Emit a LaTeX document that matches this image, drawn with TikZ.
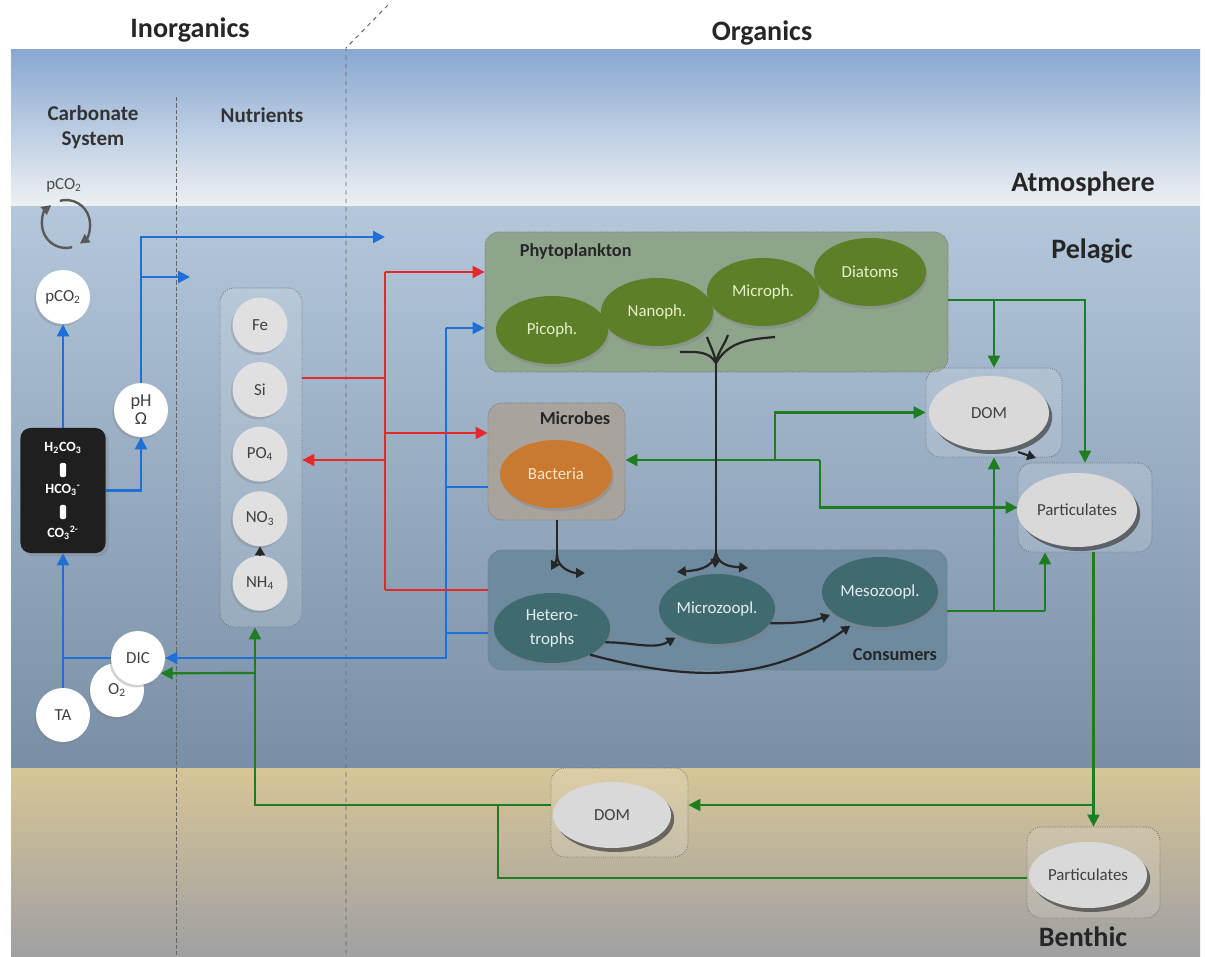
\documentclass[tikz,border=0pt]{standalone}
\usepackage{fontspec}
\setmainfont{Carlito}
\usetikzlibrary{arrows.meta,positioning,shapes.geometric,shadows}

\begin{document}
\begin{tikzpicture}[
            x=0.25mm,y=0.25mm,
            font=\fontsize{12}{14}\selectfont,
            title/.style={font=\fontsize{20}{22}\selectfont\bfseries,text=black!85},
            head/.style={font=\fontsize{15}{18}\selectfont\bfseries,text=black!80,align=center},
            grp/.style={font=\fontsize{13}{15}\selectfont\bfseries,text=black!85},
            grpbox/.style={draw=black!55,densely dotted,rounded corners=3.5mm,line width=.6pt},
            wcirc/.style={circle,fill=white,minimum size=13.5mm,inner sep=0pt,text=black!75,
                drop shadow={shadow xshift=-.4mm,shadow yshift=-.6mm,opacity=.35}},
            ncirc/.style={wcirc,fill=black!12,minimum size=13.75mm},
            phyell/.style={ellipse,fill=phyx,text=phytx,minimum width=28mm,minimum height=17mm,inner sep=0pt,
                drop shadow={shadow xshift=.4mm,shadow yshift=-.8mm,opacity=.4}},
            conell/.style={phyell,fill=conx,text=contx,minimum width=29mm,minimum height=17.5mm},
            bacell/.style={phyell,fill=bacx,text=bactx},
            omell/.style={ellipse,fill=black!15,text=black!75,minimum width=30mm,minimum height=18.5mm,inner sep=0pt,
                drop shadow={shadow xshift=.8mm,shadow yshift=-1mm,fill=black!75,opacity=.7}},
            ctext/.style={text=white,font=\fontsize{10}{12}\selectfont\bfseries,inner sep=1pt},
            sepx/.style={fill=white,rounded corners=.6mm,minimum width=1.6mm,minimum height=3.6mm,inner sep=0pt},
            bline/.style={draw=blx,line width=.55mm},
            barr/.style={bline,-{Triangle[length=3mm,width=3mm]}},
            rline/.style={draw=rdx,line width=.55mm},
            rarr/.style={rline,-{Triangle[length=3mm,width=3mm]}},
            gline/.style={draw=grx,line width=.55mm},
            garr/.style={gline,-{Triangle[length=3mm,width=3mm]}},
            kline/.style={draw=black!85,line width=.55mm},
            karr/.style={kline,-{Triangle[length=2.2mm,width=2.4mm]}}
        ]
            \definecolor{atmtop}{RGB}{136,168,210}
            \definecolor{atmbot}{RGB}{238,241,242}
            \definecolor{peltop}{RGB}{180,199,219}
            \definecolor{pelbot}{RGB}{120,143,166}
            \definecolor{bentop}{RGB}{214,197,150}
            \definecolor{benbot}{RGB}{160,160,162}
            \definecolor{blx}{RGB}{30,112,215}
            \definecolor{rdx}{RGB}{232,40,40}
            \definecolor{grx}{RGB}{30,125,30}
            \definecolor{phybx}{RGB}{142,165,140}
            \definecolor{micbx}{RGB}{168,163,156}
            \definecolor{conbx}{RGB}{110,138,158}
            \definecolor{phyx}{RGB}{92,127,40}
            \definecolor{phytx}{RGB}{232,240,200}
            \definecolor{conx}{RGB}{62,106,112}
            \definecolor{contx}{RGB}{228,238,240}
            \definecolor{bacx}{RGB}{202,122,48}
            \definecolor{bactx}{RGB}{248,228,200}

            \useasboundingbox (0,0) rectangle (1205,-957);
            \shade[top color=atmtop,bottom color=atmbot] (11,-50) rectangle (1200,-207);
            \shade[top color=peltop,bottom color=pelbot] (11,-207) rectangle (1200,-768);
            \shade[top color=bentop,bottom color=benbot] (11,-768) rectangle (1200,-957);
            \draw[black!60,dash pattern=on 3pt off 1.5pt,line width=.5pt] (176,-97) -- (176,-957);
            \draw[black!60,dashed,line width=.7pt] (388,-5) -- (346,-48) -- (346,-957);

            \node[title] (inorg) at (190,-30)  {Inorganics};
            \node[title] (org)   at (762,-33)  {Organics};
            \node[title] (atm)   at (1083,-184) {Atmosphere};
            \node[title] (pel)   at (1092,-251) {Pelagic};
            \node[title] (ben)   at (1083,-937) {Benthic};
            \node[head]  (carbh) at (93,-127)  {Carbonate\\System};
            \node[head]  (nutrh) at (262,-115) {Nutrients};

            \node[text=black!70] (pco2t) at (64,-185) {pCO\textsubscript{2}};
            \coordinate (cyc) at (66,-224);
            \draw[black!65,line width=.6mm,-{Triangle[length=2.4mm,width=2.4mm]}] (cyc) ++(285:24) arc[start angle=285,end angle=128,radius=24];
            \draw[black!65,line width=.6mm,-{Triangle[length=2.4mm,width=2.4mm]}] (cyc) ++(105:24) arc[start angle=105,end angle=-55,radius=24];

            \node[wcirc] (pco2) at (63,-297) {pCO\textsubscript{2}};
            \node[wcirc,align=center,font=\fontsize{13}{13}\selectfont] (ph) at (141,-410) {pH\\Ω};
            \node[fill=black!88,rounded corners=2.5mm,minimum width=21.25mm,minimum height=31.25mm,
                drop shadow={opacity=.3}] (carb) at (63,-490.5) {};
            \node[ctext] (h2co3) at (63,-448) {H\textsubscript{2}CO\textsubscript{3}};
            \node[sepx]  (sep1)  at (63,-470) {};
            \node[ctext] (hco3)  at (63,-490) {HCO\textsubscript{3}\textsuperscript{-}};
            \node[sepx]  (sep2)  at (63,-512) {};
            \node[ctext] (co3)   at (63,-533) {CO\textsubscript{3}\textsuperscript{2-}};
            \node[wcirc] (o2)  at (117,-690) {O\textsubscript{2}};
            \node[wcirc] (dic) at (138,-658) {DIC};
            \node[wcirc] (ta)  at (63,-715)  {TA};

            \node[grpbox,fill=white,fill opacity=.15,minimum width=20.5mm,minimum height=84.75mm] (nutr) at (261,-457.5) {};
            \begin{scope}[
                node distance=2.25mm,
                every node/.style={ncirc}
            ]
                \node (fe) at (260,-325)  {Fe};
                \node (si)  [below=of fe]  {Si};
                \node (po4) [below=of si]  {PO\textsubscript{4}};
                \node (no3) [below=of po4] {NO\textsubscript{3}};
                \node (nh4) [below=of no3] {NH\textsubscript{4}};
            \end{scope}
            \draw[karr] (nh4) -- (no3);

            \node[grpbox,fill=phybx,minimum width=115.75mm,minimum height=35mm] (phyto) at (716.5,-302) {};
            \node[grp,anchor=west] (phytol) at (515,-252) {Phytoplankton};
            \node[phyell] (pico) at (552,-330) {Picoph.};
            \node[phyell] (nano) at (657,-312) {Nanoph.};
            \node[phyell] (mcph) at (763,-292) {Microph.};
            \node[phyell] (diat) at (870,-272) {Diatoms};

            \node[grpbox,fill=micbx,minimum width=34.25mm,minimum height=29.25mm] (microb) at (556.5,-461.5) {};
            \node[grp] (microbl) at (575,-418) {Microbes};
            \node[bacell] (bact) at (556,-474) {Bacteria};

            \node[grpbox,fill=conbx,minimum width=114.75mm,minimum height=30mm] (cons) at (717.5,-610) {};
            \node[grp] (consl) at (895,-655) {Consumers};
            \node[conell,align=center,font=\fontsize{12}{17}\selectfont] (het) at (552,-628) {Hetero-\\trophs};
            \node[conell] (mic) at (717,-609) {Microzoopl.};
            \node[conell] (mes) at (880,-592) {Mesozoopl.};

            \node[grpbox,fill=white,fill opacity=.15,minimum width=34mm,minimum height=22.25mm] (domb) at (994,-412.5) {};
            \node[omell] (dom) at (989,-413) {DOM};
            \node[grpbox,fill=white,fill opacity=.15,minimum width=33.5mm,minimum height=22.25mm] (partb) at (1085,-507.5) {};
            \node[omell] (part) at (1077,-510) {Particulates};
            \node[grpbox,fill=white,fill opacity=.15,minimum width=34.25mm,minimum height=22.25mm] (bdomb) at (619.5,-812.5) {};
            \node[omell,minimum width=29.5mm,minimum height=16.5mm] (bdom) at (612,-815) {DOM};
            \node[grpbox,fill=white,fill opacity=.15,minimum width=33.25mm,minimum height=22.75mm] (bpartb) at (1093.5,-872.5) {};
            \node[omell,minimum width=29.5mm,minimum height=16.5mm] (bpart) at (1088,-875) {Particulates};

            \coordinate (bjt)    at (446,-328);
            \coordinate (bm)     at (446,-487);
            \coordinate (bc)     at (446,-633);
            \coordinate (atmout) at (385,-237);
            \coordinate (nutin)  at (190,-277);
            \draw[barr]  (carb) -- (pco2);
            \draw[barr]  (ta) -- (carb);
            \draw[bline] (dic) -- (dic -| ta);
            \draw[barr]  (carb.east) -| (ph);
            \draw[barr]  (ph) |- (atmout);
            \draw[barr]  (ph |- nutin) -- (nutin);
            \draw[barr]  (bjt) -- (phyto.west |- bjt);
            \draw[bline] (microb.west |- bm) -- (bm);
            \draw[bline] (cons.west |- bc) -- (bc);
            \draw[barr]  (bjt) |- (dic);

            \coordinate (rt) at (385,-272);
            \coordinate (rs) at (385,-378);
            \coordinate (rm) at (385,-433);
            \coordinate (rp) at (385,-460);
            \coordinate (rb) at (385,-590);
            \draw[rline] (rt) -- (rb);
            \draw[rarr]  (rt) -- (phyto.west |- rt);
            \draw[rline] (nutr.east |- rs) -- (rs);
            \draw[rarr]  (rm) -- (microb.west |- rm);
            \draw[rarr]  (rp) -- (nutr.east |- rp);
            \draw[rline] (cons.west |- rb) -- (rb);

            \coordinate (gp)  at (994,-300);
            \coordinate (gc)  at (994,-611);
            \coordinate (gcp) at (1045,-611);
            \coordinate (gb1) at (775,-460);
            \coordinate (gb2) at (820,-460);
            \coordinate (gbd) at (1093.5,-805);
            \coordinate (gn)  at (255,-805);
            \coordinate (go)  at (255,-673);
            \coordinate (gbp) at (498,-878);
            \draw[garr]  (phyto.east |- gp) -| (partb);
            \draw[garr]  (gp) -- (domb);
            \draw[gline] (cons.east |- gc) -- (gcp);
            \draw[garr]  (gc) -- (domb);
            \draw[garr]  (gcp) -- (partb.south -| gcp);
            \draw[garr]  (gb2) -- (microb.east |- gb2);
            \draw[garr]  (gb1) |- (domb);
            \draw[garr]  (gb2) |- (partb);
            \draw[garr]  (partb.south -| bpartb) -- (bpartb);
            \draw[garr]  (gbd) -- (bdomb.east |- gbd);
            \draw[garr]  (bdomb.west |- gn) -- (gn) -- (nutr.south -| gn);
            \draw[garr]  (go) -- (dic.-34);
            \draw[gline] (bpartb.west |- gbp) -- (gbp) -- (gbp |- gn);

            \coordinate (kb)  at (557,-555);
            \coordinate (kb1) at (551,-570);
            \coordinate (kb2) at (585,-573);
            \draw[kline] (microb.south -| kb) -- (kb);
            \draw[karr]  (kb) to[out=-90,in=60] (kb1);
            \draw[karr]  (kb) to[out=-90,in=180] (kb2);

            \coordinate (fk)  at (716,-363);
            \coordinate (fb)  at (716,-553);
            \coordinate (f1)  at (680,-352);
            \coordinate (f2)  at (707,-337);
            \coordinate (f3)  at (728,-335);
            \coordinate (f4)  at (775,-337);
            \coordinate (fa1) at (677,-572);
            \coordinate (fa2) at (715,-568);
            \coordinate (fa3) at (748,-568);
            \draw[kline] (fk) -- (fb);
            \draw[kline] (fk) to[out=120,in=0]    (f1);
            \draw[kline] (fk) to[out=100,in=-70]  (f2);
            \draw[kline] (fk) to[out=80,in=-110]  (f3);
            \draw[kline] (fk) to[out=60,in=185]   (f4);
            \draw[karr]  (fb) to[out=-100,in=5]   (fa1);
            \draw[karr]  (fb) -- (fa2);
            \draw[karr]  (fb) to[out=-80,in=175]  (fa3);

            \draw[karr,shorten >=1mm] (het.-15) to[out=0,in=210]   (mic.215);
            \draw[karr,shorten >=1mm] (mic.-15) to[out=0,in=200]   (mes.205);
            \draw[karr,shorten >=1mm] (het.-35) to[out=-15,in=215] (mes.230);

            \coordinate (dp1) at (1018,-452);
            \coordinate (dp2) at (1036,-458);
            \draw[karr] (dp1) -- (dp2);
        \end{tikzpicture}
\end{document}
